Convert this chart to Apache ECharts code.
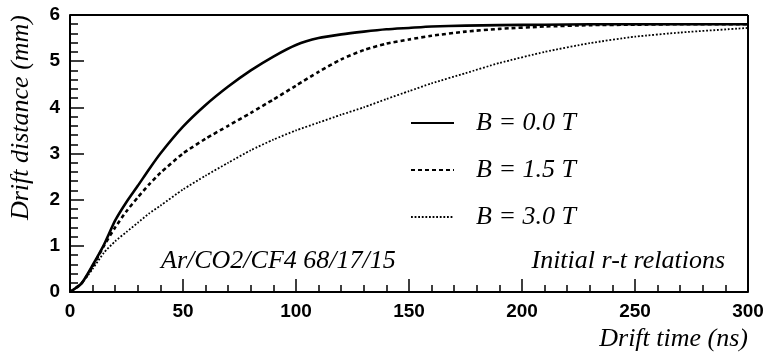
<!DOCTYPE html>
<html>
<head>
<meta charset="utf-8">
<script src="https://cdn.jsdelivr.net/npm/echarts@6/dist/echarts.min.js"></script>
<style>
html,body{margin:0;padding:0;background:#fff;}
.layer{position:absolute;left:0;top:0;width:767px;height:356px;}
#chartTop{pointer-events:none;}
</style>
</head>
<body>
<div id="chartAxes" class="layer"></div>
<div id="chartTop" class="layer"></div>
<script>
// Drift time (ns)
var driftTime = [0, 5, 10, 15, 20, 25, 30, 35, 40, 50, 60, 70, 80, 90, 100, 110, 120, 130, 140, 150, 160, 175, 190, 210, 230, 250, 270, 300];
// Drift distance (mm) for each magnetic field
var distB00 = [0, 0.18, 0.58, 1.02, 1.55, 1.95, 2.3, 2.66, 3.0, 3.58, 4.05, 4.45, 4.8, 5.1, 5.35, 5.5, 5.58, 5.64, 5.69, 5.72, 5.75, 5.77, 5.78, 5.79, 5.8, 5.8, 5.8, 5.8];
var distB15 = [0, 0.18, 0.55, 1.0, 1.4, 1.75, 2.05, 2.33, 2.58, 3.0, 3.32, 3.6, 3.88, 4.17, 4.47, 4.77, 5.04, 5.24, 5.38, 5.47, 5.55, 5.64, 5.7, 5.75, 5.78, 5.79, 5.8, 5.8];
var distB30 = [0, 0.18, 0.5, 0.85, 1.1, 1.3, 1.5, 1.7, 1.87, 2.22, 2.52, 2.8, 3.07, 3.3, 3.5, 3.67, 3.84, 4.0, 4.18, 4.35, 4.52, 4.74, 4.96, 5.2, 5.39, 5.53, 5.62, 5.72];
var seriesNames = ['B = 0.0 T', 'B = 1.5 T', 'B = 3.0 T'];
var xRange = [0, 300];
var yRange = [0, 6];
var xTitle = 'Drift time (ns)';
var yTitle = 'Drift distance (mm)';
var noteLeft = 'Ar/CO2/CF4 68/17/15';
var noteRight = 'Initial r-t relations';

function pairs(ys) { return driftTime.map(function (t, i) { return [t, ys[i]]; }); }

var serif = '"Liberation Serif", "DejaVu Serif", serif';
var sans = '"Liberation Sans", Arial, sans-serif';
var black = '#000';
var gridBox = {left: 70, right: 19, top: 15, bottom: 64};

// Layer 1: axis lines with inside major/minor ticks
var axesChart = echarts.init(document.getElementById('chartAxes'));
axesChart.setOption({
  animation: false,
  grid: gridBox,
  xAxis: {
    type: 'value', min: xRange[0], max: xRange[1], interval: 50,
    axisLine: {show: true, onZero: false, lineStyle: {color: black, width: 2}},
    axisTick: {show: true, inside: true, length: 13, lineStyle: {color: black, width: 1.5}},
    minorTick: {show: true, splitNumber: 5, length: 7, lineStyle: {color: black, width: 1.5}},
    axisLabel: {show: false},
    splitLine: {show: false}
  },
  yAxis: {
    type: 'value', min: yRange[0], max: yRange[1], interval: 1,
    axisLine: {show: true, onZero: false, lineStyle: {color: black, width: 2}},
    axisTick: {show: true, inside: true, length: 14, lineStyle: {color: black, width: 1.5}},
    minorTick: {show: true, splitNumber: 5, length: 8, lineStyle: {color: black, width: 1.5}},
    axisLabel: {show: false},
    splitLine: {show: false}
  },
  series: []
});

// Layer 2: labels, titles, curves, legend, notes
var chart = echarts.init(document.getElementById('chartTop'));
chart.setOption({
  animation: false,
  backgroundColor: 'transparent',
  grid: gridBox,
  legend: {
    orient: 'vertical', left: 410, top: 108, padding: 0,
    itemWidth: 43, itemHeight: 14, itemGap: 17,
    itemStyle: {color: 'rgba(0,0,0,0)', borderColor: 'rgba(0,0,0,0)', borderWidth: 0},
    textStyle: {fontFamily: serif, fontStyle: 'italic', fontSize: 26, color: black, lineHeight: 30, padding: [0, 0, 0, 17]},
    data: seriesNames
  },
  xAxis: {
    type: 'value', min: xRange[0], max: xRange[1], interval: 50,
    name: xTitle, nameLocation: 'end', nameGap: 0,
    nameTextStyle: {fontFamily: serif, fontStyle: 'italic', fontSize: 26, color: black, align: 'right', verticalAlign: 'top', padding: [34, 0, 0, 0]},
    axisLine: {show: false, onZero: false},
    axisTick: {show: false},
    axisLabel: {show: true, margin: 10, fontFamily: sans, fontWeight: 'bold', fontSize: 19, color: black},
    splitLine: {show: false}
  },
  yAxis: {
    type: 'value', min: yRange[0], max: yRange[1], interval: 1,
    name: yTitle, nameLocation: 'end', nameGap: 0, nameRotate: 90,
    nameTextStyle: {fontFamily: serif, fontStyle: 'italic', fontSize: 26, color: black, align: 'right', verticalAlign: 'bottom', padding: [0, 0, 36, 0]},
    axisLine: {show: false, onZero: false},
    axisTick: {show: false},
    axisLabel: {show: true, margin: 10, fontFamily: sans, fontWeight: 'bold', fontSize: 19, color: black},
    splitLine: {show: false}
  },
  graphic: [
    {type: 'text', left: 161, top: 248, style: {text: noteLeft, font: 'italic 26px ' + serif, fill: black}},
    {type: 'text', right: 42, top: 248, style: {text: noteRight, font: 'italic 26px ' + serif, fill: black}}
  ],
  series: [
    {name: seriesNames[0], type: 'line', data: pairs(distB00), symbol: 'none', smooth: 0.2,
     lineStyle: {color: black, width: 2.6, type: 'solid'}, itemStyle: {color: black},
     markLine: {silent: true, symbol: 'none', animation: false, label: {show: false},
       lineStyle: {color: black, width: 2, type: 'solid'},
       data: [{xAxis: xRange[1]}, {yAxis: yRange[1]}]}},
    {name: seriesNames[1], type: 'line', data: pairs(distB15), symbol: 'none', smooth: 0.2,
     lineStyle: {color: black, width: 2.6, type: [4, 3]}, itemStyle: {color: black}},
    {name: seriesNames[2], type: 'line', data: pairs(distB30), symbol: 'none', smooth: 0.2,
     lineStyle: {color: black, width: 1.8, type: [1.8, 1.8]}, itemStyle: {color: black}}
  ]
});
</script>
</body>
</html>
